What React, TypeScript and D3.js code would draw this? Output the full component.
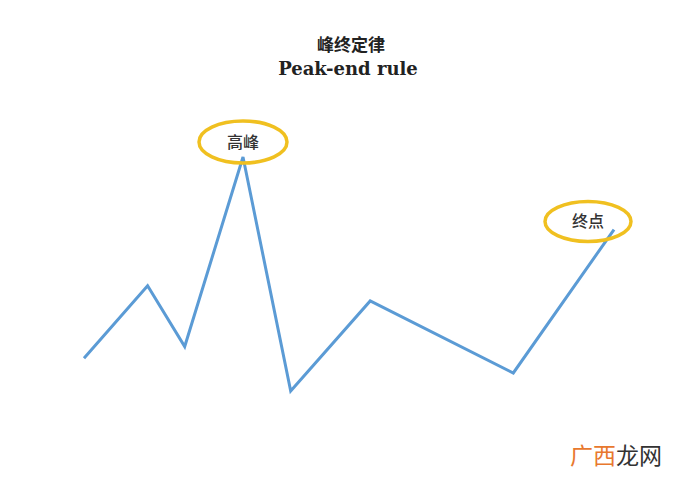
import { useEffect, useRef } from "react";
import * as d3 from "d3";

// experience curve: time vs. feeling
const times = [0, 1.2, 1.9, 3, 3.9, 5.4, 8.1, 10];
const feelings = [1.4, 4.5, 1.9, 10, 0, 3.85, 0.77, 6.9];
const titleLines = ["峰终定律", "Peak-end rule"];
const peakLabel = "高峰";
const endLabel = "终点";

export default function App() {
  const svgRef = useRef<SVGSVGElement | null>(null);

  useEffect(() => {
    if (!svgRef.current) return;
    const svg = d3.select(svgRef.current);
    svg.selectAll("*").remove();

    const x = d3.scaleLinear().domain([0, 10]).range([84, 614]);
    const y = d3.scaleLinear().domain([0, 10]).range([391, 157]);

    svg.append("rect").attr("width", 700).attr("height", 483).attr("fill", "#fff");

    // titles
    svg
      .append("text")
      .text(titleLines[0])
      .attr("x", 351)
      .attr("y", 51)
      .attr("text-anchor", "middle")
      .style("font-family", "'Noto Sans CJK SC', sans-serif")
      .style("font-weight", "bold")
      .style("font-size", "17px")
      .style("fill", "#222");
    svg
      .append("text")
      .text(titleLines[1])
      .attr("x", 348)
      .attr("y", 75)
      .attr("text-anchor", "middle")
      .style("font-family", "'DejaVu Serif', serif")
      .style("font-weight", "bold")
      .style("font-size", "18px")
      .style("fill", "#222");

    const pts = times.map((t, i) => [t, feelings[i]] as [number, number]);
    const line = d3
      .line<[number, number]>()
      .x((d) => x(d[0]))
      .y((d) => y(d[1]));

    svg
      .append("path")
      .attr("d", line(pts))
      .attr("fill", "none")
      .attr("stroke", "#5b9bd5")
      .attr("stroke-width", 3)
      .attr("stroke-linejoin", "miter");

    // callouts for peak and end
    const peakIdx = d3.maxIndex(feelings);
    const endIdx = feelings.length - 1;
    const callouts = [
      { label: peakLabel, cx: x(times[peakIdx]), cy: y(feelings[peakIdx]) - 15, rx: 44, ry: 21 },
      { label: endLabel, cx: x(times[endIdx]) - 26, cy: y(feelings[endIdx]) - 8, rx: 43, ry: 20 },
    ];

    const g = svg.selectAll("g.callout").data(callouts).join("g").attr("class", "callout");
    g.append("ellipse")
      .attr("cx", (d) => d.cx)
      .attr("cy", (d) => d.cy)
      .attr("rx", (d) => d.rx)
      .attr("ry", (d) => d.ry)
      .attr("fill", "none")
      .attr("stroke", "#f0c020")
      .attr("stroke-width", 3.5);
    g.append("text")
      .text((d) => d.label)
      .attr("x", (d) => d.cx)
      .attr("y", (d) => d.cy)
      .attr("dy", ".35em")
      .attr("text-anchor", "middle")
      .style("font-family", "'Noto Sans CJK SC', sans-serif")
      .style("font-weight", 500)
      .style("font-size", "16px")
      .style("fill", "#333");

    // watermark
    const wm = svg
      .append("text")
      .attr("x", 570)
      .attr("y", 464)
      .style("font-family", "'Noto Sans CJK SC', sans-serif")
      .style("font-size", "23px");
    wm.append("tspan").text("广西").style("fill", "#e8782e");
    wm.append("tspan").text("龙网").style("fill", "#333");
  }, []);

  return (
    <svg
      ref={svgRef}
      width={700}
      height={483}
      style={{ position: "absolute", left: 0, top: 0 }}
    />
  );
}
